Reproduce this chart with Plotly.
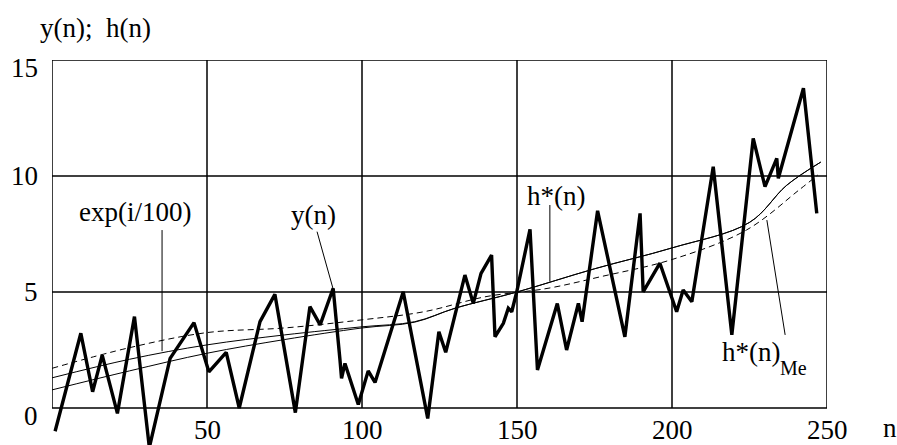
import plotly.graph_objects as go

# ---- data ----
n_y = [1, 9.3, 13.1, 16.2, 21.1, 26.6, 31.4, 38.1, 45.8, 50.6, 56.2, 60.4, 67.1, 71.9, 78.5,
       83.2, 86.5, 90.7, 92.9, 93.4, 94.5, 98.8, 102, 104.2, 113.3, 121.2, 124.8, 127, 133.2,
       135.9, 138.4, 141.8, 142.9, 145.6, 147.2, 148.3, 149.9, 154.2, 156.6, 163, 166, 169.8,
       171, 176, 184.8, 189.7, 190.7, 196.1, 201.5, 203.6, 206.4, 213.3, 219.3, 226.2, 230,
       233.8, 234.3, 242.4, 246.7]
y_vals = [-1.0, 3.22, 0.7, 2.28, -0.23, 3.94, -1.7, 2.14, 3.68, 1.56, 2.4, 0.0, 3.72, 4.9, -0.2,
          4.37, 3.58, 5.16, 2.07, 1.28, 1.92, 0.15, 1.6, 1.1, 5.01, -0.45, 3.29, 2.4, 5.73,
          4.51, 5.8, 6.59, 3.07, 3.65, 4.3, 4.15, 5.0, 7.7, 1.64, 4.5, 2.5, 4.51,
          3.72, 8.5, 3.07, 8.39, 5.01, 6.24, 4.15, 5.09, 4.58, 10.4, 3.15, 11.62, 9.54,
          10.76, 9.9, 13.78, 8.39]

n_h = [0, 25, 50, 75, 100, 117, 130, 150, 175, 200, 225, 237, 248]
h_star = [1.3, 2.1, 2.72, 3.15, 3.5, 3.72, 4.3, 5.0, 6.0, 6.9, 8.0, 9.6, 10.6]
exp_curve = [0.78, 1.6, 2.36, 2.95, 3.45, 3.7, 4.3, 5.0, 6.0, 6.9, 8.0, 9.6, 10.6]

n_me = [0, 25, 50, 75, 100, 120, 140, 160, 177, 200, 224, 241, 247]
h_me = [1.71, 2.6, 3.25, 3.45, 3.8, 4.15, 4.8, 5.16, 5.66, 6.4, 7.67, 9.4, 10.04]

x_ticks = [0, 50, 100, 150, 200, 250]
x_tick_labels = ["50", "100", "150", "200", "250"]
y_ticks = [0, 5, 10, 15]
y_tick_labels = ["0", "5", "10", "15"]

FONT = "Liberation Serif"
FS = 27

fig = go.Figure()
fig.add_trace(go.Scatter(x=n_h, y=exp_curve, mode="lines", line=dict(color="black", width=1, shape="spline"),
                         showlegend=False, hoverinfo="skip"))
fig.add_trace(go.Scatter(x=n_h, y=h_star, mode="lines", line=dict(color="black", width=1, shape="spline"),
                         showlegend=False, hoverinfo="skip"))
fig.add_trace(go.Scatter(x=n_me, y=h_me, mode="lines",
                         line=dict(color="black", width=1, dash="6px,4px", shape="spline"),
                         showlegend=False, hoverinfo="skip"))
fig.add_trace(go.Scatter(x=n_y, y=y_vals, mode="lines", line=dict(color="black", width=3.4),
                         showlegend=False, hoverinfo="skip"))

x0, x1 = x_ticks[0], x_ticks[-1]
y0, y1 = y_ticks[0], y_ticks[-1]
shapes = []
for xv in x_ticks:
    shapes.append(dict(type="line", xref="x", yref="y", x0=xv, x1=xv, y0=y0, y1=y1,
                       line=dict(color="black", width=1.5), layer="below"))
for yv in y_ticks:
    shapes.append(dict(type="line", xref="x", yref="y", x0=x0, x1=x1, y0=yv, y1=yv,
                       line=dict(color="black", width=1.5), layer="below"))
# leader lines for labels
leaders = [((35.5, 7.67), (35.5, 2.45)), ((85.5, 7.6), (90.6, 5.17)),
           ((160.6, 8.75), (160.6, 5.45)), ((230.6, 8.1), (236.5, 3.15))]
for (a, b) in leaders:
    shapes.append(dict(type="line", xref="x", yref="y", x0=a[0], y0=a[1], x1=b[0], y1=b[1],
                       line=dict(color="black", width=1)))

txt = dict(family=FONT, size=FS, color="black")
ann = []
for xv, lab in zip(x_ticks[1:], x_tick_labels):
    ann.append(dict(x=xv, y=0, xref="x", yref="y", text=lab, showarrow=False, yshift=-22,
                    xanchor="center", yanchor="middle", font=txt))
for yv, lab in zip(y_ticks, y_tick_labels):
    ys = -8 if yv in (y0, y1) else 0
    ann.append(dict(x=0, y=yv, xref="x", yref="y", text=lab, showarrow=False, xshift=-12, yshift=ys,
                    xanchor="right", yanchor="middle", font=txt))
ann.append(dict(x=1, y=0, xref="paper", yref="y", text="n", showarrow=False, xshift=63, yshift=-20,
                xanchor="center", yanchor="middle", font=txt))
ann.append(dict(x=0, y=1, xref="paper", yref="paper", text="y(n);  h(n)", showarrow=False, xshift=-14,
                yshift=32, xanchor="left", yanchor="middle", font=txt))
ann.append(dict(x=26.8, y=8.45, xref="x", yref="y", text="exp(i/100)", showarrow=False,
                xanchor="center", yanchor="middle", font=txt))
ann.append(dict(x=84.2, y=8.32, xref="x", yref="y", text="y(n)", showarrow=False,
                xanchor="center", yanchor="middle", font=txt))
ann.append(dict(x=162.6, y=9.14, xref="x", yref="y", text="h*(n)", showarrow=False,
                xanchor="center", yanchor="middle", font=txt))
ann.append(dict(x=215.5, y=2.41, xref="x", yref="y", text="h*(n)", showarrow=False,
                xanchor="left", yanchor="middle", font=txt))
ann.append(dict(x=234.3, y=1.72, xref="x", yref="y", text="Me", showarrow=False,
                xanchor="left", yanchor="middle", font=dict(family=FONT, size=20, color="black")))

fig.update_layout(
    width=897, height=445,
    margin=dict(l=52, r=70, t=60, b=0),
    paper_bgcolor="white", plot_bgcolor="white",
    xaxis=dict(range=[0, 250], showgrid=False, zeroline=False, showticklabels=False, ticks="",
               showline=False, fixedrange=True),
    yaxis=dict(range=[-1.595, 15], showgrid=False, zeroline=False, showticklabels=False, ticks="",
               showline=False, fixedrange=True),
    shapes=shapes, annotations=ann,
)

# remove the default page margin so the figure sits at the window's top-left corner
fig.write_html("out.html", config={"displayModeBar": False},
               post_script="document.body.style.margin='0';document.body.style.overflow='hidden';")
